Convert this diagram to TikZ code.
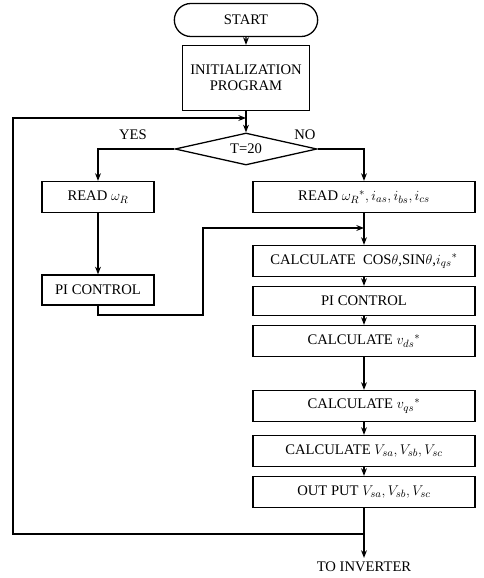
\documentclass[tikz,border=0pt]{standalone}
\usepackage{amsmath}
\usepackage{fontspec}
\setmainfont{Liberation Serif}
\usetikzlibrary{positioning,arrows.meta,shapes.geometric,shapes.misc}

\tikzset{
  flowbox/.style={draw, line width=1.1pt, inner sep=2pt, font=\fontsize{12.5}{13.5}\selectfont},
  mainbox/.style={flowbox, minimum width=6.66cm, minimum height=0.93cm},
  sidebox/.style={flowbox, minimum width=3.36cm, minimum height=0.93cm},
  flow/.style={line width=1.1pt, -{Stealth[length=6.5pt,width=5pt]}},
  lbl/.style={font=\fontsize{12.5}{13.5}\selectfont},
}

\begin{document}
\begin{tikzpicture}[x=0.03cm,y=-0.03cm]
    \useasboundingbox (0,0) rectangle (484,578);
    % top of the chart
    \node[flowbox,rounded rectangle,minimum width=4.44cm,minimum height=0.99cm] (start) at (246,20) {START};
    \node[flowbox,align=center,minimum width=3.81cm,minimum height=1.95cm] (init) at (246,78) {INITIALIZATION\\PROGRAM};
    \node[flowbox,diamond,aspect=4,inner sep=0pt,minimum width=4.26cm,minimum height=0.96cm] (test) at (246,149) {T=20};
    \node[lbl] (yes) at (133,135) {YES};
    \node[lbl] (no) at (305,135) {NO};
    % left branch
    \node[sidebox] (readw) at (98,197) {READ $\omega_R$};
    \node[sidebox,minimum height=0.9cm] (pil) at (98,290) {PI CONTROL};
    % main column
    \node[mainbox] (readi) at (364,197) {READ ${\omega_R}^*,i_{as},i_{bs},i_{cs}$};
    \node[mainbox] (calc) at (364,261) {CALCULATE \ COS$\theta$,SIN$\theta$,${i_{qs}}^*$};
    \node[mainbox,minimum height=0.87cm] (pir) at (364,301) {PI CONTROL};
    \node[mainbox] (vds) at (364,341) {CALCULATE ${v_{ds}}^*$};
    \node[mainbox] (vqs) at (364,406) {CALCULATE ${v_{qs}}^*$};
    \node[mainbox] (vabc) at (364,451) {CALCULATE $V_{sa},V_{sb},V_{sc}$};
    \node[mainbox] (out) at (364,492) {OUT PUT $V_{sa},V_{sb},V_{sc}$};
    \node[lbl] (inv) at (364,567) {TO INVERTER};
    % junctions
    \coordinate (mrg) at (364,228);
    \coordinate (bend) at (203,315);
    \coordinate (fb) at (364,534);
    \coordinate (ret) at (13,118);
    \coordinate (join) at (246,118);
    % connectors
    \draw[flow] (start) -- (init);
    \draw[flow] (init) -- (test);
    \draw[flow] (test.west) -| (readw.north);
    \draw[flow] (test.east) -| (readi.north);
    \draw[flow] (readw) -- (pil);
    \draw[flow] (pil.south) |- (bend) |- (mrg);
    \draw[flow] (readi) -- (calc);
    \draw[flow] (calc) -- (pir);
    \draw[flow] (pir) -- (vds);
    \draw[flow] (vds) -- (vqs);
    \draw[flow] (vqs) -- (vabc);
    \draw[flow] (vabc) -- (out);
    \draw[flow] (out) -- (inv);
    \draw[flow] (fb) -| (ret) -- (join);
\end{tikzpicture}
\end{document}
